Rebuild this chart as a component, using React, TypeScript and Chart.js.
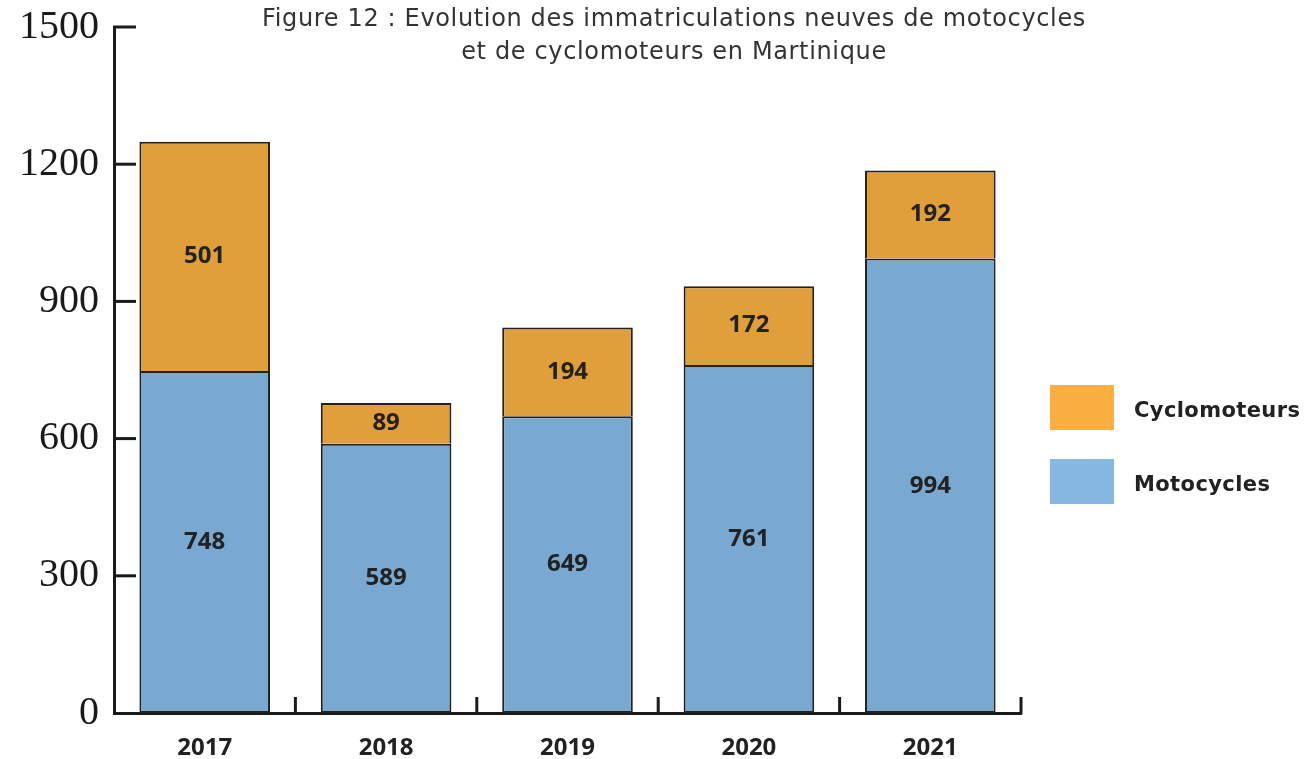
import React, { useEffect, useRef } from "react";
import { Chart, registerables } from "chart.js";

Chart.register(...registerables);

const years = ["2017", "2018", "2019", "2020", "2021"];
const motocycles = [748, 589, 649, 761, 994];
const cyclomoteurs = [501, 89, 194, 172, 192];
const yTicks = [0, 300, 600, 900, 1200, 1500];
const titleLines = [
  "Figure 12 : Evolution des immatriculations neuves de motocycles",
  "et de cyclomoteurs en Martinique",
];
const legendItems = [
  { label: "Cyclomoteurs", color: "#FBAF40" },
  { label: "Motocycles", color: "#85B9E4" },
];

const W = 1307;
const H = 759;

const handTicks = {
  id: "handTicks",
  afterDraw(chart: any) {
    const { ctx, chartArea, scales } = chart;
    ctx.save();
    ctx.strokeStyle = "#1a1a1a";
    ctx.lineWidth = 3;
    ctx.lineCap = "butt";
    for (const v of yTicks) {
      if (v === 0) continue;
      const y = scales.y.getPixelForValue(v);
      ctx.beginPath();
      ctx.moveTo(chartArea.left - 1, y);
      ctx.lineTo(chartArea.left + 22, y);
      ctx.stroke();
    }
    const n = years.length;
    const step = (chartArea.right - chartArea.left) / n;
    for (let i = 1; i <= n; i++) {
      const x = chartArea.left + step * i;
      ctx.beginPath();
      ctx.moveTo(x, chartArea.bottom + 1);
      ctx.lineTo(x, chartArea.bottom - 16);
      ctx.stroke();
    }
    ctx.restore();
  },
};

const valueLabels = {
  id: "valueLabels",
  afterDatasetsDraw(chart: any) {
    const { ctx } = chart;
    ctx.save();
    ctx.fillStyle = "#222";
    ctx.font = "bold 24px 'Open Sans', sans-serif";
    ctx.textAlign = "center";
    ctx.textBaseline = "middle";
    chart.data.datasets.forEach((ds: any, di: number) => {
      const meta = chart.getDatasetMeta(di);
      meta.data.forEach((el: any, i: number) => {
        const y = (el.y + el.base) / 2;
        ctx.fillText(String(ds.data[i]), el.x, y);
      });
    });
    ctx.restore();
  },
};

export default function App() {
  const ref = useRef<HTMLCanvasElement>(null);

  useEffect(() => {
    if (!ref.current) return;
    const chart = new Chart(ref.current, {
      type: "bar",
      data: {
        labels: years,
        datasets: [
          {
            label: "Motocycles",
            data: motocycles,
            backgroundColor: "#79A9D0",
            borderColor: "#222",
            borderWidth: 2,
            borderSkipped: false,
            barPercentage: 0.72,
            categoryPercentage: 1,
          },
          {
            label: "Cyclomoteurs",
            data: cyclomoteurs,
            backgroundColor: "#E19F3B",
            borderColor: "#222",
            borderWidth: 2,
            borderSkipped: "bottom",
            barPercentage: 0.72,
            categoryPercentage: 1,
          },
        ],
      },
      options: {
        animation: false,
        responsive: false,
        maintainAspectRatio: false,
        layout: { padding: { top: 27, right: W - 1021, left: 0, bottom: 0 } },
        plugins: {
          legend: { display: false },
          tooltip: { enabled: false },
          title: { display: false },
        },
        scales: {
          x: {
            stacked: true,
            grid: { display: false, drawTicks: false },
            border: { display: true, color: "#1a1a1a", width: 3 },
            ticks: {
              color: "#222",
              padding: 21,
              font: { family: "'Open Sans', sans-serif", size: 24, weight: "bold" },
            },
            afterFit: (s: any) => {
              s.height = H - 713;
              s.paddingLeft = 0;
              s.paddingRight = 0;
            },
          },
          y: {
            stacked: true,
            min: 0,
            max: 1500,
            afterBuildTicks: (s: any) => {
              s.ticks = yTicks.map((v) => ({ value: v }));
            },
            grid: { display: false, drawTicks: false },
            border: { display: true, color: "#1a1a1a", width: 3 },
            ticks: {
              color: "#1a1a1a",
              padding: 15,
              callback: (v: any) => String(v),
              font: { family: "'Liberation Serif', serif", size: 40 },
            },
            afterFit: (s: any) => {
              s.width = 114;
              s.paddingTop = 0;
              s.paddingBottom = 0;
            },
          },
        },
      },
      plugins: [handTicks, valueLabels],
    });
    return () => chart.destroy();
  }, []);

  return (
    <div style={{ position: "absolute", left: 0, top: 0, width: W, height: H, background: "#fff" }}>
      <canvas ref={ref} width={W} height={H} style={{ position: "absolute", left: 0, top: 0 }} />
      <div
        style={{
          position: "absolute",
          left: 0,
          top: 2,
          width: 1348,
          textAlign: "center",
          fontFamily: "'DejaVu Sans', sans-serif",
          fontSize: 24,
          letterSpacing: "0.65px",
          lineHeight: "33px",
          color: "#333",
        }}
      >
        {titleLines.map((t) => (
          <div key={t}>{t}</div>
        ))}
      </div>
      {legendItems.map((it, i) => (
        <div
          key={it.label}
          style={{
            position: "absolute",
            left: 1050,
            top: 385 + i * 74,
            height: 45,
            display: "flex",
            alignItems: "center",
          }}
        >
          <div style={{ width: 64, height: 45, background: it.color }} />
          <span
            style={{
              marginLeft: 20,
              marginTop: 4,
              fontFamily: "'DejaVu Sans', sans-serif",
              fontWeight: 700,
              fontSize: 21,
              letterSpacing: "0.4px",
              color: "#222",
            }}
          >
            {it.label}
          </span>
        </div>
      ))}
    </div>
  );
}
